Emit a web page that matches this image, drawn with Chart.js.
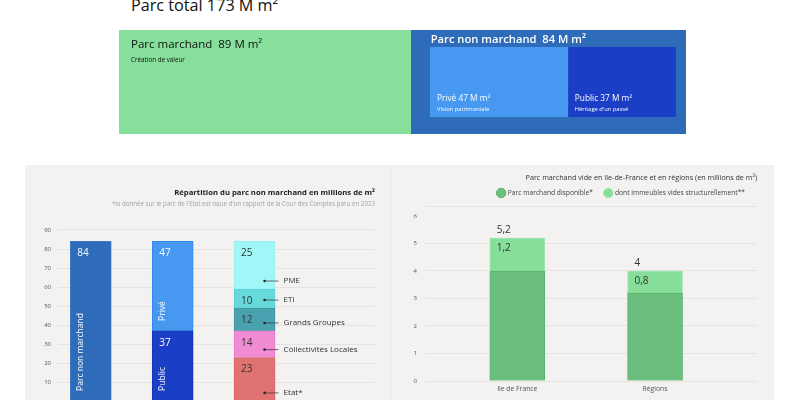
<!DOCTYPE html>
<html>
<head>
<meta charset="utf-8">
<script src="https://cdn.jsdelivr.net/npm/chart.js@4.4.0/dist/chart.umd.min.js"></script>
<style>
body{margin:0;width:800px;height:400px;overflow:hidden;background:#fff;font-family:"Open Sans",sans-serif;position:relative}
.box{position:absolute}
#total{position:absolute;left:131px;top:-5px;font-size:16.2px;line-height:20px;color:#111;white-space:nowrap}
.panel{position:absolute;top:165px;height:240px;background:#f3f2f0}
</style>
</head>
<body>
<div id="total"></div>
<div class="box" style="left:119px;top:30px;width:567px;height:104px"><canvas id="parc"></canvas></div>
<div class="box" id="innerBox" style="top:47px;height:70px"><canvas id="nonMarchand"></canvas></div>
<div class="panel" style="left:25px;width:365px"></div>
<div class="panel" style="left:390px;width:383px;border-left:1px solid #e9e8e6"></div>
<div class="box" style="left:25px;top:165px;width:366px;height:247px"><canvas id="repartition"></canvas></div>
<div class="box" style="left:394px;top:165px;width:379px;height:235px"><canvas id="vide"></canvas></div>
<script>
// parc total
var parcLabels = ['Parc marchand', 'Parc non marchand'];
var parcValues = [89, 84];
var parcNotes = ['Création de valeur', ''];
var nonMarchandLabels = ['Privé', 'Public'];
var nonMarchandValues = [47, 37];
var nonMarchandNotes = ['Vision patrimoniale', "Héritage d'un passé"];

// repartition du parc non marchand
var repartitionLabels = ['Parc non marchand', 'Public', 'Privé', 'Etat*', 'Collectivités Locales', 'Grands Groupes', 'ETI', 'PME'];
var repartitionColumn = [0, 1, 1, 2, 2, 2, 2, 2];
var repartitionValues = [84, 37, 47, 23, 14, 12, 10, 25];
var repartitionTicks = [0, 10, 20, 30, 40, 50, 60, 70, 80, 90];

// parc marchand vide
var regions = ['Ile de France', 'Régions'];
var disponible = [5.2, 4];
var videsStructurels = [1.2, 0.8];
var videTicks = [0, 1, 2, 3, 4, 5, 6];
var videMax = 6.35;

var font = '"Open Sans", sans-serif';
var gridColor = '#e4e3e1';
Chart.defaults.font.family = font;

document.getElementById('total').textContent = 'Parc total ' + (parcValues[0] + parcValues[1]) + ' M m²';

function fmt(v) {
    return String(v).replace('.', ',');
}

var parcText = {
    id: 'parcText',
    afterDatasetsDraw: function(chart) {
        var ctx = chart.ctx;
        ctx.save();
        ctx.textBaseline = 'middle';
        ctx.textAlign = 'left';
        chart.data.datasets.forEach(function(ds, i) {
            var bar = chart.getDatasetMeta(i).data[0];
            var left = Math.min(bar.x, bar.base);
            var top = bar.y - bar.height / 2;
            var title = ds.label + '  ' + ds.data[0] + ' M m²';
            if (i === 0) {
                ctx.fillStyle = '#111';
                ctx.font = '11.5px ' + font;
                ctx.fillText(title, left + 12, top + 15);
                ctx.font = '6.3px ' + font;
                ctx.fillText(parcNotes[i], left + 12, top + 30);
            } else {
                ctx.fillStyle = '#fff';
                ctx.font = '600 11.2px ' + font;
                ctx.fillText(title, left + 20, top + 10);
            }
        });
        ctx.restore();
    }
};

var nonMarchandText = {
    id: 'nonMarchandText',
    afterDatasetsDraw: function(chart) {
        var ctx = chart.ctx;
        ctx.save();
        ctx.textBaseline = 'middle';
        ctx.fillStyle = '#fff';
        chart.data.datasets.forEach(function(ds, i) {
            var bar = chart.getDatasetMeta(i).data[0];
            var left = Math.min(bar.x, bar.base);
            var bottom = bar.y + bar.height / 2;
            ctx.font = '8.3px ' + font;
            ctx.fillText(ds.label + ' ' + ds.data[0] + ' M m²', left + 7, bottom - 18);
            ctx.font = '5.8px ' + font;
            ctx.fillText(nonMarchandNotes[i], left + 7, bottom - 8);
        });
        ctx.restore();
    }
};

function bandChart(id, labels, values, colors, plugin) {
    return new Chart(document.getElementById(id), {
        type: 'bar',
        data: {
            labels: [''],
            datasets: labels.map(function(l, i) {
                return { label: l, data: [values[i]], backgroundColor: colors[i], borderWidth: 0,
                         barPercentage: 1, categoryPercentage: 1 };
            })
        },
        options: {
            indexAxis: 'y',
            responsive: true,
            maintainAspectRatio: false,
            animation: false,
            plugins: { legend: { display: false }, tooltip: { enabled: false } },
            scales: {
                x: { stacked: true, min: 0, max: values.reduce(function(a, b) { return a + b; }, 0), display: false },
                y: { stacked: true, display: false }
            }
        },
        plugins: [plugin]
    });
}

var parcChart = bandChart('parc', parcLabels, parcValues, ['#86df9b', '#2e6cb9'], parcText);

// inner box sits inside the non marchand part
var marchandEnd = 119 + parcChart.scales.x.getPixelForValue(parcValues[0]);
var inner = document.getElementById('innerBox');
inner.style.left = (marchandEnd + 19) + 'px';
inner.style.width = (676 - marchandEnd - 19) + 'px';
bandChart('nonMarchand', nonMarchandLabels, nonMarchandValues, ['#4698f1', '#1a3ec6'], nonMarchandText);

var repColors = ['#2e6cb9', '#1a3ec6', '#4698f1', '#e07272', '#f08ad2', '#4aa2b0', '#66d9db', '#a1f7f7'];
var repBorders = ['#3f7cc8', '#1432b4', '#2f88f0', '#d86262', '#ea7cc8', '#3f96a4', '#5cd0d2', '#96eef0'];

var repartitionText = {
    id: 'repartitionText',
    afterDatasetsDraw: function(chart) {
        var ctx = chart.ctx;
        ctx.save();
        ctx.textBaseline = 'middle';
        chart.data.datasets.forEach(function(ds, i) {
            var bar = chart.getDatasetMeta(i).data[0];
            var left = bar.x - bar.width / 2;
            var col = repartitionColumn[i];
            ctx.textAlign = 'left';
            ctx.font = '10px ' + font;
            ctx.fillStyle = col === 2 ? '#333' : '#fff';
            ctx.fillText(String(repartitionValues[i]), left + 7, bar.y + 12);
            if (col < 2) {
                ctx.save();
                ctx.translate(left + 10, bar.base - 10);
                ctx.rotate(-Math.PI / 2);
                ctx.font = '8.5px ' + font;
                ctx.fillText(ds.label, 0, 0);
                ctx.restore();
            } else {
                var dotY = bar.base - Math.min(8, (bar.base - bar.y) / 2);
                ctx.fillStyle = '#222';
                ctx.beginPath();
                ctx.arc(bar.x + 10, dotY, 1.3, 0, Math.PI * 2);
                ctx.fill();
                ctx.strokeStyle = '#333';
                ctx.lineWidth = 0.7;
                ctx.beginPath();
                ctx.moveTo(bar.x + 10, dotY);
                ctx.lineTo(bar.x + 24, dotY);
                ctx.stroke();
                ctx.fillStyle = '#333';
                ctx.font = '8px ' + font;
                ctx.fillText(ds.label, bar.x + 29, dotY);
            }
        });
        ctx.restore();
    }
};

new Chart(document.getElementById('repartition'), {
    type: 'bar',
    data: {
        datasets: repartitionLabels.map(function(l, i) {
            return { label: l, data: [{ x: repartitionColumn[i], y: repartitionValues[i] }],
                     backgroundColor: repColors[i], borderColor: repBorders[i], borderWidth: 1,
                     stack: 's', barThickness: 41 };
        })
    },
    options: {
        responsive: true,
        maintainAspectRatio: false,
        animation: false,
        layout: { padding: { left: 0, right: 16, top: 0, bottom: 4 } },
        plugins: {
            legend: { display: false },
            tooltip: { enabled: false },
            title: {
                display: true, align: 'end', color: '#222',
                text: 'Répartition du parc non marchand en millions de m²',
                font: { size: 7.7, weight: 'bold' }, padding: { top: 23, bottom: 2 }
            },
            subtitle: {
                display: true, align: 'end', color: '#a3a3a3',
                text: "*la donnée sur le parc de l'Etat est issue d'un rapport de la Cour des Comptes paru en 2023",
                font: { size: 6.2 }, padding: { top: 1, bottom: 22.3 }
            }
        },
        scales: {
            x: { type: 'linear', min: -0.4, max: 3.47, offset: false, stacked: true, display: false },
            y: {
                stacked: true, min: 0, max: 90,
                afterBuildTicks: function(s) { s.ticks = repartitionTicks.map(function(v) { return { value: v }; }); },
                ticks: { color: '#555', font: { size: 6 }, padding: 7,
                         callback: function(v) { return v === 0 ? '' : v; } },
                grid: { color: gridColor, drawTicks: false },
                border: { display: false },
                afterFit: function(s) { s.width = 33; }
            }
        }
    },
    plugins: [repartitionText]
});

var videText = {
    id: 'videText',
    afterDatasetsDraw: function(chart) {
        var ctx = chart.ctx;
        ctx.save();
        ctx.textBaseline = 'middle';
        ctx.fillStyle = '#333';
        ctx.font = '10px ' + font;
        chart.getDatasetMeta(1).data.forEach(function(bar, j) {
            var left = bar.x - bar.width / 2;
            ctx.fillText(fmt(videsStructurels[j]), left + 7, bar.y + 10);
            ctx.fillText(fmt(disponible[j]), left + 7, bar.y - 8);
        });
        ctx.restore();
    }
};

new Chart(document.getElementById('vide'), {
    type: 'bar',
    data: {
        datasets: [{
            label: 'Parc marchand disponible*',
            data: disponible.map(function(v, j) { return { x: j, y: v - videsStructurels[j] }; }),
            backgroundColor: '#6cbe7d', borderColor: '#5cb26e', borderWidth: 1,
            stack: 's', barThickness: 55
        }, {
            label: 'dont immeubles vides structurellement**',
            data: videsStructurels.map(function(v, j) { return { x: j, y: v }; }),
            backgroundColor: '#86df99', borderColor: '#9fe8b0', borderWidth: 1,
            stack: 's', barThickness: 55
        }]
    },
    options: {
        responsive: true,
        maintainAspectRatio: false,
        animation: false,
        layout: { padding: { right: 16 } },
        plugins: {
            tooltip: { enabled: false },
            title: {
                display: true, align: 'end', color: '#333',
                text: 'Parc marchand vide en Ile-de-France et en régions (en millions de m²)',
                font: { size: 7.2, weight: '500' }, padding: { top: 8.2, bottom: -4.2 }
            },
            legend: {
                align: 'end',
                labels: { usePointStyle: true, pointStyle: 'circle', boxWidth: 7, boxHeight: 7,
                          color: '#444', font: { size: 6.7 }, padding: 12 }
            }
        },
        scales: {
            x: {
                type: 'linear', min: -0.67, max: 1.74, offset: false, stacked: true,
                afterBuildTicks: function(s) { s.ticks = regions.map(function(r, j) { return { value: j }; }); },
                ticks: { color: '#555', font: { size: 6.8 }, padding: 4, maxRotation: 0,
                         callback: function(v) { return regions[v]; } },
                grid: { display: false, drawTicks: false },
                border: { display: false },
                afterFit: function(s) { s.height = 19; }
            },
            y: {
                stacked: true, min: 0, max: videMax,
                afterBuildTicks: function(s) { s.ticks = videTicks.concat([videMax]).map(function(v) { return { value: v }; }); },
                ticks: { color: '#555', font: { size: 6 }, padding: 8,
                         callback: function(v) { return v > 6 ? '' : v; } },
                grid: { drawTicks: false, color: function(c) { return c.tick && c.tick.value === 6 ? 'rgba(0,0,0,0)' : gridColor; } },
                border: { display: false },
                afterFit: function(s) { s.width = 31; }
            }
        }
    },
    plugins: [videText]
});
</script>
</body>
</html>
